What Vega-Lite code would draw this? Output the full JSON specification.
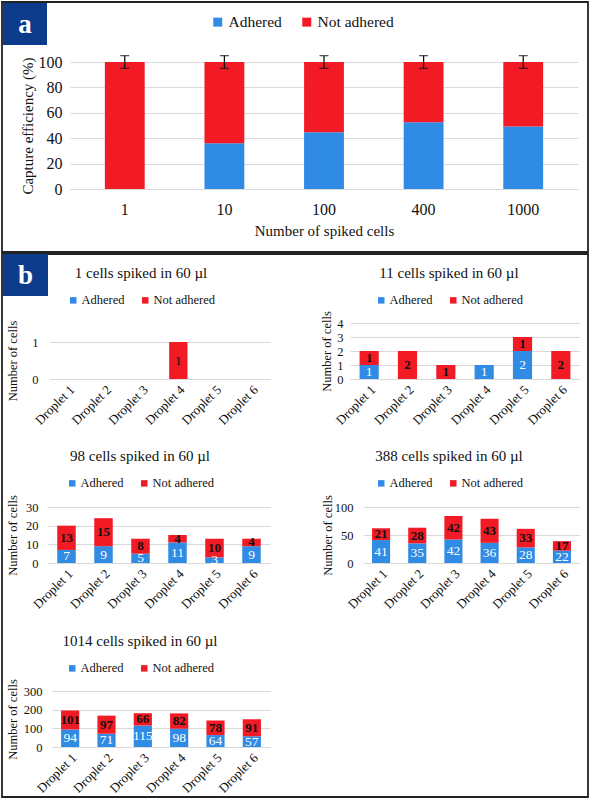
{
"$schema": "https://vega.github.io/schema/vega-lite/v6.json",
"padding": {"left": 1, "top": 1, "right": 0, "bottom": 0},
"background": "white",
"config": {
  "font": "Liberation Serif",
  "view": {"stroke": null},
  "axis": {"labelFont": "Liberation Serif", "titleFont": "Liberation Serif", "labelColor": "#111", "titleColor": "#111", "titleFontWeight": "normal", "ticks": false, "domainColor": "#d9d9d9", "gridColor": "#d9d9d9", "labelFlush": false, "labelOverlap": false},
  "legend": {"labelFont": "Liberation Serif", "labelColor": "#111", "titleFont": "Liberation Serif", "titleColor": "#111"},
  "text": {"font": "Liberation Serif"}
},
"datasets": {
  "capture": [
    {"spiked": "1", "status": "Not adhered", "pct": 100},
    {"spiked": "10", "status": "Adhered", "pct": 36.1},
    {"spiked": "10", "status": "Not adhered", "pct": 63.9},
    {"spiked": "100", "status": "Adhered", "pct": 44.7},
    {"spiked": "100", "status": "Not adhered", "pct": 55.3},
    {"spiked": "400", "status": "Adhered", "pct": 52.5},
    {"spiked": "400", "status": "Not adhered", "pct": 47.5},
    {"spiked": "1000", "status": "Adhered", "pct": 49.2},
    {"spiked": "1000", "status": "Not adhered", "pct": 50.8}
  ],
  "captureErr": [
    {"spiked": "1", "total": 100, "err": 5},
    {"spiked": "10", "total": 100, "err": 5},
    {"spiked": "100", "total": 100, "err": 5},
    {"spiked": "400", "total": 100, "err": 5},
    {"spiked": "1000", "total": 100, "err": 5}
  ],
  "panels": [{"panel": "a"}, {"panel": "b"}],
  "droplets": [
    {"spiked": 1, "droplet": "Droplet 4", "status": "Not adhered", "n": 1},
    {"spiked": 11, "droplet": "Droplet 1", "status": "Adhered", "n": 1},
    {"spiked": 11, "droplet": "Droplet 1", "status": "Not adhered", "n": 1},
    {"spiked": 11, "droplet": "Droplet 2", "status": "Not adhered", "n": 2},
    {"spiked": 11, "droplet": "Droplet 3", "status": "Not adhered", "n": 1},
    {"spiked": 11, "droplet": "Droplet 4", "status": "Adhered", "n": 1},
    {"spiked": 11, "droplet": "Droplet 5", "status": "Adhered", "n": 2},
    {"spiked": 11, "droplet": "Droplet 5", "status": "Not adhered", "n": 1},
    {"spiked": 11, "droplet": "Droplet 6", "status": "Not adhered", "n": 2},
    {"spiked": 98, "droplet": "Droplet 1", "status": "Adhered", "n": 7},
    {"spiked": 98, "droplet": "Droplet 1", "status": "Not adhered", "n": 13},
    {"spiked": 98, "droplet": "Droplet 2", "status": "Adhered", "n": 9},
    {"spiked": 98, "droplet": "Droplet 2", "status": "Not adhered", "n": 15},
    {"spiked": 98, "droplet": "Droplet 3", "status": "Adhered", "n": 5},
    {"spiked": 98, "droplet": "Droplet 3", "status": "Not adhered", "n": 8},
    {"spiked": 98, "droplet": "Droplet 4", "status": "Adhered", "n": 11},
    {"spiked": 98, "droplet": "Droplet 4", "status": "Not adhered", "n": 4},
    {"spiked": 98, "droplet": "Droplet 5", "status": "Adhered", "n": 3},
    {"spiked": 98, "droplet": "Droplet 5", "status": "Not adhered", "n": 10},
    {"spiked": 98, "droplet": "Droplet 6", "status": "Adhered", "n": 9},
    {"spiked": 98, "droplet": "Droplet 6", "status": "Not adhered", "n": 4},
    {"spiked": 388, "droplet": "Droplet 1", "status": "Adhered", "n": 41},
    {"spiked": 388, "droplet": "Droplet 1", "status": "Not adhered", "n": 21},
    {"spiked": 388, "droplet": "Droplet 2", "status": "Adhered", "n": 35},
    {"spiked": 388, "droplet": "Droplet 2", "status": "Not adhered", "n": 28},
    {"spiked": 388, "droplet": "Droplet 3", "status": "Adhered", "n": 42},
    {"spiked": 388, "droplet": "Droplet 3", "status": "Not adhered", "n": 42},
    {"spiked": 388, "droplet": "Droplet 4", "status": "Adhered", "n": 36},
    {"spiked": 388, "droplet": "Droplet 4", "status": "Not adhered", "n": 43},
    {"spiked": 388, "droplet": "Droplet 5", "status": "Adhered", "n": 28},
    {"spiked": 388, "droplet": "Droplet 5", "status": "Not adhered", "n": 33},
    {"spiked": 388, "droplet": "Droplet 6", "status": "Adhered", "n": 22},
    {"spiked": 388, "droplet": "Droplet 6", "status": "Not adhered", "n": 17},
    {"spiked": 1014, "droplet": "Droplet 1", "status": "Adhered", "n": 94},
    {"spiked": 1014, "droplet": "Droplet 1", "status": "Not adhered", "n": 101},
    {"spiked": 1014, "droplet": "Droplet 2", "status": "Adhered", "n": 71},
    {"spiked": 1014, "droplet": "Droplet 2", "status": "Not adhered", "n": 97},
    {"spiked": 1014, "droplet": "Droplet 3", "status": "Adhered", "n": 115},
    {"spiked": 1014, "droplet": "Droplet 3", "status": "Not adhered", "n": 66},
    {"spiked": 1014, "droplet": "Droplet 4", "status": "Adhered", "n": 98},
    {"spiked": 1014, "droplet": "Droplet 4", "status": "Not adhered", "n": 82},
    {"spiked": 1014, "droplet": "Droplet 5", "status": "Adhered", "n": 64},
    {"spiked": 1014, "droplet": "Droplet 5", "status": "Not adhered", "n": 78},
    {"spiked": 1014, "droplet": "Droplet 6", "status": "Adhered", "n": 57},
    {"spiked": 1014, "droplet": "Droplet 6", "status": "Not adhered", "n": 91}
  ]
},
"spacing": 0,
"vconcat": [
  {
    "width": 586, "height": 250,
    "view": {"stroke": "#222", "strokeWidth": 1.8},
    "resolve": {"scale": {"x": "independent", "y": "independent", "color": "independent"}, "axis": {"x": "independent", "y": "independent"}, "legend": {"color": "independent"}},
    "layer": [
      {
        "data": {"name": "panels"},
        "transform": [{"filter": "datum.panel == 'a'"}],
        "encoding": {
          "x": {"field": "panel", "type": "nominal", "scale": {"range": [1, 45], "paddingInner": 0, "paddingOuter": 0}, "axis": null},
          "y": {"field": "panel", "type": "nominal", "scale": {"range": [1, 43], "paddingInner": 0, "paddingOuter": 0}, "axis": null}
        },
        "layer": [
          {"mark": {"type": "rect", "color": "#0d3b8c"}},
          {"mark": {"type": "text", "color": "white", "fontSize": 27, "fontWeight": "bold", "dy": 1}, "encoding": {"text": {"field": "panel", "type": "nominal"}}}
        ]
      },
      {
        "data": {"name": "capture"},
        "encoding": {"x": {"field": "spiked", "type": "nominal", "scale": {"domain": ["1", "10", "100", "400", "1000"], "range": [68, 576], "paddingInner": 0.6, "paddingOuter": 0.35}, "axis": {"orient": "bottom", "offset": -63, "title": "Number of spiked cells", "labelAngle": 0, "labelFontSize": 16, "labelPadding": 12, "titleFontSize": 15, "titlePadding": 6, "domain": true, "grid": false}}},
        "layer": [
          {"transform": [{"stack": "pct", "groupby": ["spiked"], "sort": [{"field": "status", "order": "ascending"}], "as": ["p0", "p1"]}],
           "mark": {"type": "bar"},
           "encoding": {
             "y": {"field": "p0", "type": "quantitative", "scale": {"domain": [0, 100], "range": [187, 60], "nice": false}, "axis": {"orient": "left", "offset": -68, "title": "Capture efficiency (%)", "values": [0, 20, 40, 60, 80, 100], "titleFontSize": 15, "titlePadding": 1.5, "labelFontSize": 16, "labelPadding": 8, "minExtent": 33, "maxExtent": 33, "grid": true, "domain": false}},
             "y2": {"field": "p1"},
             "color": {"field": "status", "type": "nominal", "scale": {"domain": ["Adhered", "Not adhered"], "range": ["#2f8be4", "#f21a24"]}, "legend": {"title": null, "orient": "none", "legendX": 208, "legendY": 12, "direction": "horizontal", "symbolType": "square", "symbolSize": 81, "symbolStrokeWidth": 0, "labelFontSize": 15.5, "labelOffset": 3, "columnPadding": 17, "padding": 0}}
           }},
          {"data": {"name": "captureErr"},
           "mark": {"type": "errorbar", "ticks": true, "size": 9, "thickness": 1.3, "color": "#111"},
           "encoding": {"y": {"field": "total", "type": "quantitative", "scale": {"domain": [0, 100], "range": [187, 60], "nice": false}, "axis": {"orient": "left", "offset": -68, "title": "Capture efficiency (%)", "values": [0, 20, 40, 60, 80, 100], "titleFontSize": 15, "titlePadding": 1.5, "labelFontSize": 16, "labelPadding": 8, "minExtent": 33, "maxExtent": 33, "grid": true, "domain": false}}, "yError": {"field": "err"}}}
        ]
      }
    ]
  },
  {
    "width": 586, "height": 543,
    "view": {"stroke": "#222", "strokeWidth": 1.8},
    "resolve": {"scale": {"x": "independent", "y": "independent", "color": "independent"}, "axis": {"x": "independent", "y": "independent"}, "legend": {"color": "independent"}},
    "layer": [
      {
        "data": {"name": "panels"},
        "transform": [{"filter": "datum.panel == 'b'"}],
        "encoding": {
          "x": {"field": "panel", "type": "nominal", "scale": {"range": [1, 46], "paddingInner": 0, "paddingOuter": 0}, "axis": null},
          "y": {"field": "panel", "type": "nominal", "scale": {"range": [0, 42], "paddingInner": 0, "paddingOuter": 0}, "axis": null}
        },
        "layer": [
          {"mark": {"type": "rect", "color": "#0d3b8c"}},
          {"mark": {"type": "text", "color": "white", "fontSize": 27, "fontWeight": "bold", "dy": 1}, "encoding": {"text": {"field": "panel", "type": "nominal"}}}
        ]
      },
      {
        "data": {"name": "droplets"},
        "transform": [{"filter": "datum.spiked == 1"}, {"stack": "n", "groupby": ["droplet"], "sort": [{"field": "status", "order": "ascending"}], "as": ["v0", "v1"]}],
        "encoding": {"x": {"field": "droplet", "type": "nominal", "scale": {"domain": ["Droplet 1", "Droplet 2", "Droplet 3", "Droplet 4", "Droplet 5", "Droplet 6"], "range": [48, 268], "paddingInner": 0.5, "paddingOuter": 0.25}, "axis": {"orient": "bottom", "offset": -418, "title": null, "labelAngle": -45, "labelFontSize": 13, "labelPadding": 4, "domain": true, "grid": false}}},
        "layer": [
          {"mark": {"type": "bar"}, "encoding": {
            "y": {"field": "v0", "type": "quantitative", "scale": {"domain": [0, 1], "range": [125, 88], "nice": false}, "axis": {"orient": "left", "offset": -48, "title": "Number of cells", "values": [0, 1], "format": "d", "titleFontSize": 12.5, "titlePadding": 4.75, "labelFontSize": 12.5, "labelPadding": 12, "minExtent": 26, "maxExtent": 26, "grid": true, "domain": false}},
            "y2": {"field": "v1"},
            "color": {"field": "status", "type": "nominal", "scale": {"domain": ["Adhered", "Not adhered"], "range": ["#2f8be4", "#f21a24"]}, "legend": {"title": "1 cells spiked in 60 µl", "titleFontSize": 15, "titleFontWeight": "normal", "titleAnchor": "middle", "titlePadding": 13.5, "titleLimit": 400, "orient": "none", "legendX": 65, "legendY": 11.5, "direction": "horizontal", "symbolType": "square", "symbolSize": 42, "symbolStrokeWidth": 0, "labelFontSize": 12.5, "labelOffset": 2, "columnPadding": 14, "padding": 0}}}},
          {"transform": [{"filter": "datum.status == 'Adhered'"}, {"fold": ["v0", "v1"], "as": ["edge", "pos"]}], "mark": {"type": "text", "color": "white", "fontSize": 13.5}, "encoding": {"y": {"aggregate": "mean", "field": "pos", "type": "quantitative", "scale": {"domain": [0, 1], "range": [125, 88], "nice": false}, "axis": {"orient": "left", "offset": -48, "title": "Number of cells", "values": [0, 1], "format": "d", "titleFontSize": 12.5, "titlePadding": 4.75, "labelFontSize": 12.5, "labelPadding": 12, "minExtent": 26, "maxExtent": 26, "grid": true, "domain": false}}, "text": {"field": "n", "type": "quantitative"}}},
          {"transform": [{"filter": "datum.status == 'Not adhered'"}, {"fold": ["v0", "v1"], "as": ["edge", "pos"]}], "mark": {"type": "text", "color": "#111", "fontSize": 13.5}, "encoding": {"y": {"aggregate": "mean", "field": "pos", "type": "quantitative", "scale": {"domain": [0, 1], "range": [125, 88], "nice": false}, "axis": {"orient": "left", "offset": -48, "title": "Number of cells", "values": [0, 1], "format": "d", "titleFontSize": 12.5, "titlePadding": 4.75, "labelFontSize": 12.5, "labelPadding": 12, "minExtent": 26, "maxExtent": 26, "grid": true, "domain": false}}, "text": {"field": "n", "type": "quantitative"}}}
        ]
      },
      {
        "data": {"name": "droplets"},
        "transform": [{"filter": "datum.spiked == 11"}, {"stack": "n", "groupby": ["droplet"], "sort": [{"field": "status", "order": "ascending"}], "as": ["v0", "v1"]}],
        "encoding": {"x": {"field": "droplet", "type": "nominal", "scale": {"domain": ["Droplet 1", "Droplet 2", "Droplet 3", "Droplet 4", "Droplet 5", "Droplet 6"], "range": [348, 578], "paddingInner": 0.5, "paddingOuter": 0.25}, "axis": {"orient": "bottom", "offset": -418, "title": null, "labelAngle": -45, "labelFontSize": 13, "labelPadding": 4, "domain": true, "grid": false}}},
        "layer": [
          {"mark": {"type": "bar"}, "encoding": {
            "y": {"field": "v0", "type": "quantitative", "scale": {"domain": [0, 4], "range": [125, 69], "nice": false}, "axis": {"orient": "left", "offset": -348, "title": "Number of cells", "values": [0, 1, 2, 3, 4], "titleFontSize": 12.5, "titlePadding": 3.75, "labelFontSize": 12.5, "labelPadding": 7, "minExtent": 13, "maxExtent": 13, "grid": true, "domain": false}},
            "y2": {"field": "v1"},
            "color": {"field": "status", "type": "nominal", "scale": {"domain": ["Adhered", "Not adhered"], "range": ["#2f8be4", "#f21a24"]}, "legend": {"title": "11 cells spiked in 60 µl", "titleFontSize": 15, "titleFontWeight": "normal", "titleAnchor": "middle", "titlePadding": 13.5, "titleLimit": 400, "orient": "none", "legendX": 373, "legendY": 11.5, "direction": "horizontal", "symbolType": "square", "symbolSize": 42, "symbolStrokeWidth": 0, "labelFontSize": 12.5, "labelOffset": 2, "columnPadding": 14, "padding": 0}}}},
          {"transform": [{"filter": "datum.status == 'Adhered'"}, {"fold": ["v0", "v1"], "as": ["edge", "pos"]}], "mark": {"type": "text", "color": "white", "fontSize": 13.5}, "encoding": {"y": {"aggregate": "mean", "field": "pos", "type": "quantitative", "scale": {"domain": [0, 4], "range": [125, 69], "nice": false}, "axis": {"orient": "left", "offset": -348, "title": "Number of cells", "values": [0, 1, 2, 3, 4], "titleFontSize": 12.5, "titlePadding": 3.75, "labelFontSize": 12.5, "labelPadding": 7, "minExtent": 13, "maxExtent": 13, "grid": true, "domain": false}}, "text": {"field": "n", "type": "quantitative"}}},
          {"transform": [{"filter": "datum.status == 'Not adhered'"}, {"fold": ["v0", "v1"], "as": ["edge", "pos"]}], "mark": {"type": "text", "color": "#111", "fontSize": 13, "fontWeight": "bold"}, "encoding": {"y": {"aggregate": "mean", "field": "pos", "type": "quantitative", "scale": {"domain": [0, 4], "range": [125, 69], "nice": false}, "axis": {"orient": "left", "offset": -348, "title": "Number of cells", "values": [0, 1, 2, 3, 4], "titleFontSize": 12.5, "titlePadding": 3.75, "labelFontSize": 12.5, "labelPadding": 7, "minExtent": 13, "maxExtent": 13, "grid": true, "domain": false}}, "text": {"field": "n", "type": "quantitative"}}}
        ]
      },
      {
        "data": {"name": "droplets"},
        "transform": [{"filter": "datum.spiked == 98"}, {"stack": "n", "groupby": ["droplet"], "sort": [{"field": "status", "order": "ascending"}], "as": ["v0", "v1"]}],
        "encoding": {"x": {"field": "droplet", "type": "nominal", "scale": {"domain": ["Droplet 1", "Droplet 2", "Droplet 3", "Droplet 4", "Droplet 5", "Droplet 6"], "range": [46, 268], "paddingInner": 0.5, "paddingOuter": 0.25}, "axis": {"orient": "bottom", "offset": -234, "title": null, "labelAngle": -45, "labelFontSize": 13, "labelPadding": 4, "domain": true, "grid": false}}},
        "layer": [
          {"mark": {"type": "bar"}, "encoding": {
            "y": {"field": "v0", "type": "quantitative", "scale": {"domain": [0, 30], "range": [309, 253], "nice": false}, "axis": {"orient": "left", "offset": -46, "title": "Number of cells", "values": [0, 10, 20, 30], "titleFontSize": 12.5, "titlePadding": 4.75, "labelFontSize": 12.5, "labelPadding": 10, "minExtent": 24, "maxExtent": 24, "grid": true, "domain": false}},
            "y2": {"field": "v1"},
            "color": {"field": "status", "type": "nominal", "scale": {"domain": ["Adhered", "Not adhered"], "range": ["#2f8be4", "#f21a24"]}, "legend": {"title": "98 cells spiked in 60 µl", "titleFontSize": 15, "titleFontWeight": "normal", "titleAnchor": "middle", "titlePadding": 13.5, "titleLimit": 400, "orient": "none", "legendX": 64, "legendY": 194.5, "direction": "horizontal", "symbolType": "square", "symbolSize": 42, "symbolStrokeWidth": 0, "labelFontSize": 12.5, "labelOffset": 2, "columnPadding": 14, "padding": 0}}}},
          {"transform": [{"filter": "datum.status == 'Adhered'"}, {"fold": ["v0", "v1"], "as": ["edge", "pos"]}], "mark": {"type": "text", "color": "white", "fontSize": 13.5}, "encoding": {"y": {"aggregate": "mean", "field": "pos", "type": "quantitative", "scale": {"domain": [0, 30], "range": [309, 253], "nice": false}, "axis": {"orient": "left", "offset": -46, "title": "Number of cells", "values": [0, 10, 20, 30], "titleFontSize": 12.5, "titlePadding": 4.75, "labelFontSize": 12.5, "labelPadding": 10, "minExtent": 24, "maxExtent": 24, "grid": true, "domain": false}}, "text": {"field": "n", "type": "quantitative"}}},
          {"transform": [{"filter": "datum.status == 'Not adhered'"}, {"fold": ["v0", "v1"], "as": ["edge", "pos"]}], "mark": {"type": "text", "color": "#111", "fontSize": 13, "fontWeight": "bold"}, "encoding": {"y": {"aggregate": "mean", "field": "pos", "type": "quantitative", "scale": {"domain": [0, 30], "range": [309, 253], "nice": false}, "axis": {"orient": "left", "offset": -46, "title": "Number of cells", "values": [0, 10, 20, 30], "titleFontSize": 12.5, "titlePadding": 4.75, "labelFontSize": 12.5, "labelPadding": 10, "minExtent": 24, "maxExtent": 24, "grid": true, "domain": false}}, "text": {"field": "n", "type": "quantitative"}}}
        ]
      },
      {
        "data": {"name": "droplets"},
        "transform": [{"filter": "datum.spiked == 388"}, {"stack": "n", "groupby": ["droplet"], "sort": [{"field": "status", "order": "ascending"}], "as": ["v0", "v1"]}],
        "encoding": {"x": {"field": "droplet", "type": "nominal", "scale": {"domain": ["Droplet 1", "Droplet 2", "Droplet 3", "Droplet 4", "Droplet 5", "Droplet 6"], "range": [361, 578], "paddingInner": 0.5, "paddingOuter": 0.25}, "axis": {"orient": "bottom", "offset": -234, "title": null, "labelAngle": -45, "labelFontSize": 13, "labelPadding": 4, "domain": true, "grid": false}}},
        "layer": [
          {"mark": {"type": "bar"}, "encoding": {
            "y": {"field": "v0", "type": "quantitative", "scale": {"domain": [0, 100], "range": [309, 253], "nice": false}, "axis": {"orient": "left", "offset": -361, "title": "Number of cells", "values": [0, 50, 100], "titleFontSize": 12.5, "titlePadding": 2.75, "labelFontSize": 12.5, "labelPadding": 10, "minExtent": 26, "maxExtent": 26, "grid": true, "domain": false}},
            "y2": {"field": "v1"},
            "color": {"field": "status", "type": "nominal", "scale": {"domain": ["Adhered", "Not adhered"], "range": ["#2f8be4", "#f21a24"]}, "legend": {"title": "388 cells spiked in 60 µl", "titleFontSize": 15, "titleFontWeight": "normal", "titleAnchor": "middle", "titlePadding": 13.5, "titleLimit": 400, "orient": "none", "legendX": 373, "legendY": 194.5, "direction": "horizontal", "symbolType": "square", "symbolSize": 42, "symbolStrokeWidth": 0, "labelFontSize": 12.5, "labelOffset": 2, "columnPadding": 14, "padding": 0}}}},
          {"transform": [{"filter": "datum.status == 'Adhered'"}, {"fold": ["v0", "v1"], "as": ["edge", "pos"]}], "mark": {"type": "text", "color": "white", "fontSize": 13.5}, "encoding": {"y": {"aggregate": "mean", "field": "pos", "type": "quantitative", "scale": {"domain": [0, 100], "range": [309, 253], "nice": false}, "axis": {"orient": "left", "offset": -361, "title": "Number of cells", "values": [0, 50, 100], "titleFontSize": 12.5, "titlePadding": 2.75, "labelFontSize": 12.5, "labelPadding": 10, "minExtent": 26, "maxExtent": 26, "grid": true, "domain": false}}, "text": {"field": "n", "type": "quantitative"}}},
          {"transform": [{"filter": "datum.status == 'Not adhered'"}, {"fold": ["v0", "v1"], "as": ["edge", "pos"]}], "mark": {"type": "text", "color": "#111", "fontSize": 13, "fontWeight": "bold"}, "encoding": {"y": {"aggregate": "mean", "field": "pos", "type": "quantitative", "scale": {"domain": [0, 100], "range": [309, 253], "nice": false}, "axis": {"orient": "left", "offset": -361, "title": "Number of cells", "values": [0, 50, 100], "titleFontSize": 12.5, "titlePadding": 2.75, "labelFontSize": 12.5, "labelPadding": 10, "minExtent": 26, "maxExtent": 26, "grid": true, "domain": false}}, "text": {"field": "n", "type": "quantitative"}}}
        ]
      },
      {
        "data": {"name": "droplets"},
        "transform": [{"filter": "datum.spiked == 1014"}, {"stack": "n", "groupby": ["droplet"], "sort": [{"field": "status", "order": "ascending"}], "as": ["v0", "v1"]}],
        "encoding": {"x": {"field": "droplet", "type": "nominal", "scale": {"domain": ["Droplet 1", "Droplet 2", "Droplet 3", "Droplet 4", "Droplet 5", "Droplet 6"], "range": [50, 268], "paddingInner": 0.5, "paddingOuter": 0.25}, "axis": {"orient": "bottom", "offset": -50, "title": null, "labelAngle": -45, "labelFontSize": 13, "labelPadding": 4, "domain": true, "grid": false}}},
        "layer": [
          {"mark": {"type": "bar"}, "encoding": {
            "y": {"field": "v0", "type": "quantitative", "scale": {"domain": [0, 300], "range": [493, 437], "nice": false}, "axis": {"orient": "left", "offset": -50, "title": "Number of cells", "values": [0, 100, 200, 300], "titleFontSize": 12.5, "titlePadding": 4.75, "labelFontSize": 12.5, "labelPadding": 10, "minExtent": 28, "maxExtent": 28, "grid": true, "domain": false}},
            "y2": {"field": "v1"},
            "color": {"field": "status", "type": "nominal", "scale": {"domain": ["Adhered", "Not adhered"], "range": ["#2f8be4", "#f21a24"]}, "legend": {"title": "1014 cells spiked in 60 µl", "titleFontSize": 15, "titleFontWeight": "normal", "titleAnchor": "middle", "titlePadding": 13.5, "titleLimit": 400, "orient": "none", "legendX": 61, "legendY": 379.5, "direction": "horizontal", "symbolType": "square", "symbolSize": 42, "symbolStrokeWidth": 0, "labelFontSize": 12.5, "labelOffset": 2, "columnPadding": 14, "padding": 0}}}},
          {"transform": [{"filter": "datum.status == 'Adhered'"}, {"fold": ["v0", "v1"], "as": ["edge", "pos"]}], "mark": {"type": "text", "color": "white", "fontSize": 13.5}, "encoding": {"y": {"aggregate": "mean", "field": "pos", "type": "quantitative", "scale": {"domain": [0, 300], "range": [493, 437], "nice": false}, "axis": {"orient": "left", "offset": -50, "title": "Number of cells", "values": [0, 100, 200, 300], "titleFontSize": 12.5, "titlePadding": 4.75, "labelFontSize": 12.5, "labelPadding": 10, "minExtent": 28, "maxExtent": 28, "grid": true, "domain": false}}, "text": {"field": "n", "type": "quantitative"}}},
          {"transform": [{"filter": "datum.status == 'Not adhered'"}, {"fold": ["v0", "v1"], "as": ["edge", "pos"]}], "mark": {"type": "text", "color": "#111", "fontSize": 13, "fontWeight": "bold"}, "encoding": {"y": {"aggregate": "mean", "field": "pos", "type": "quantitative", "scale": {"domain": [0, 300], "range": [493, 437], "nice": false}, "axis": {"orient": "left", "offset": -50, "title": "Number of cells", "values": [0, 100, 200, 300], "titleFontSize": 12.5, "titlePadding": 4.75, "labelFontSize": 12.5, "labelPadding": 10, "minExtent": 28, "maxExtent": 28, "grid": true, "domain": false}}, "text": {"field": "n", "type": "quantitative"}}}
        ]
      }
    ]
  }
]
}
